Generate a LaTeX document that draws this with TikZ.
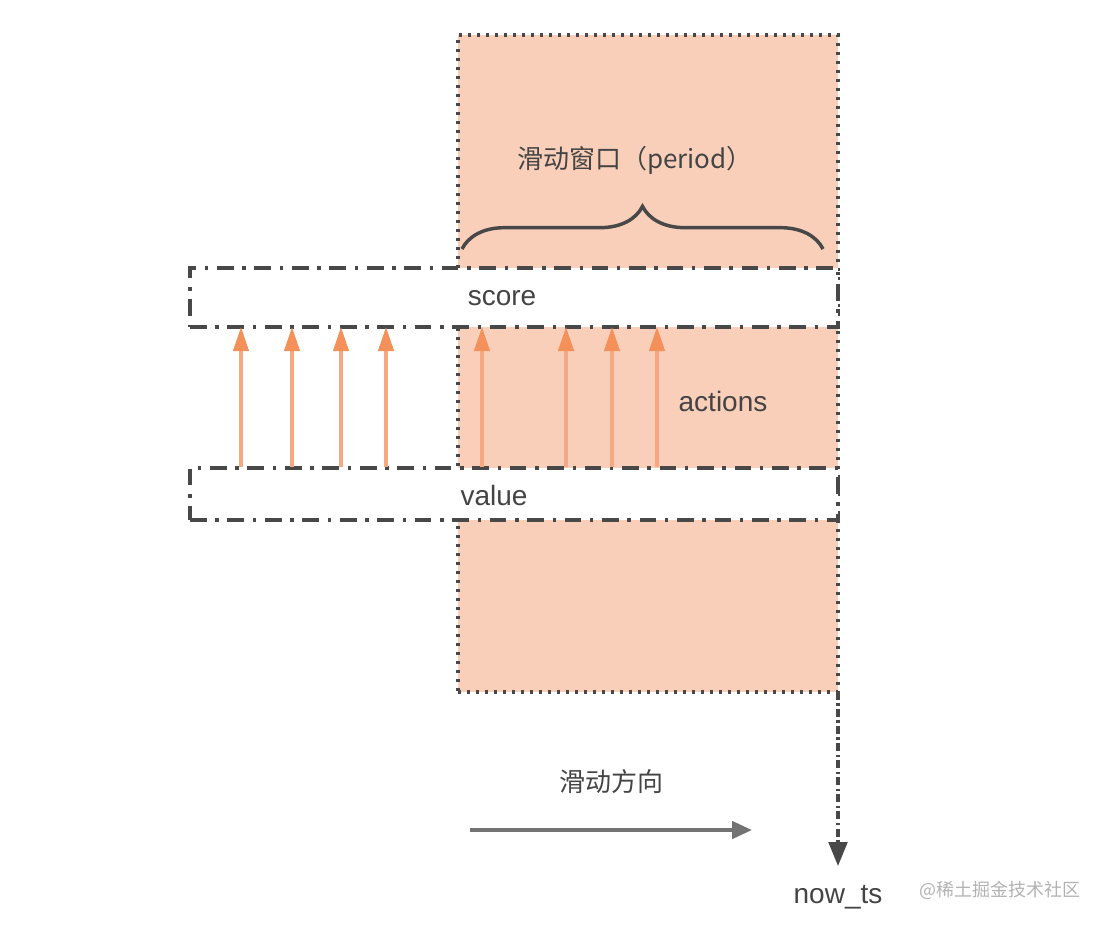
\documentclass[tikz,border=0pt]{standalone}
\usepackage{fontspec}
\setmainfont{Liberation Sans}
\newfontfamily\cjk{Noto Sans CJK SC}
\usepackage{xcolor}
\usetikzlibrary{positioning,calc,decorations.pathreplacing,arrows.meta}

\definecolor{winpink}{RGB}{249,207,186}
\definecolor{actorange}{RGB}{244,145,90}
\definecolor{actlight}{RGB}{246,168,130}
\definecolor{linegray}{RGB}{72,72,72}
\definecolor{textgray}{RGB}{68,68,68}

\begin{document}
\begin{tikzpicture}[
					x=0.75pt, y=-0.75pt,
					% Style for the sliding window (dotted frame)
					win_box/.style={
						rectangle, fill=winpink, draw=linegray, line width=2.6pt,
						dash pattern=on 2.4pt off 4.35pt,
						inner sep=0pt, outer sep=0pt,
						minimum width=285pt, minimum height=492.75pt
					},
					% Style for the score / value bands (dash-dot)
					band_box/.style={
						rectangle, fill=white, draw=linegray, line width=2.6pt,
						dash pattern=on 12.5pt off 6.5pt on 2.6pt off 6.5pt,
						inner sep=0pt, outer sep=0pt, minimum width=486pt
					},
					% Style for the action arrows
					act_arrow/.style={
						-{Triangle[length=18pt, width=11.5pt, color=actorange]},
						draw=actlight, line width=2.4pt
					},
					% Style for the texts
					lbl_text/.style={font=\fontsize{21}{25}\selectfont, text=textgray},
					cjk_text/.style={font=\cjk\fontsize{19.5}{23}\selectfont, text=textgray}
					]
					
					\useasboundingbox (0,0) rectangle (1106,926);
					
					% ================= Sliding window =================
					\node[win_box] (win) at (648,363.5) {};
					
					% Brace and label of the window
					\coordinate (br_l) at (462,249);
					\coordinate (br_r) at (823,249);
					\draw[linegray, line width=2.6pt, decorate, decoration={brace, amplitude=32pt}] (br_l) -- (br_r);
					\node[cjk_text] (period) at (635,160) {滑动窗口（period）};
					
					
					% ================= Bands: score and value =================
					\node[band_box, minimum height=44.25pt] (score) at (514,297.5) {};
					\node[lbl_text] (score_txt) at (502,298) {score};
					
					\node[band_box, minimum height=39pt] (value) at (514,494) {};
					\node[lbl_text] (value_txt) at (494,495) {value};
					
					
					% ================= Actions (value -> score) =================
					\foreach \x in {241,292,341,386,482,566,612,657} {
						\coordinate (a\x) at (\x,467);
						\draw[act_arrow] (a\x) -- (a\x |- score.south);
					}
					\node[lbl_text] (actions) at (723,401) {actions};
					
					
					% ================= now_ts marker =================
					\coordinate (ts_end) at (838,866);
					\draw[linegray, line width=2.4pt, dash pattern=on 6pt off 2.5pt on 1.8pt off 2.5pt,
						-{Triangle[length=18pt, width=14pt]}] (win.south east) -- (ts_end);
					\node[lbl_text] (now_ts) at (838,897) {now\_ts};
					
					
					% ================= Sliding direction =================
					\node[cjk_text] (dir_txt) at (611,782) {滑动方向};
					\coordinate (dir_s) at (470,830);
					\coordinate (dir_e) at (752,830);
					\draw[draw=black!55, line width=2.8pt, -{Triangle[length=15pt, width=13pt]}] (dir_s) -- (dir_e);
					
					% Watermark
					\node[font=\cjk\fontsize{13.5}{16}\selectfont, text=black!30] (mark) at (1000,890) {@稀土掘金技术社区};
					
				\end{tikzpicture}
\end{document}
